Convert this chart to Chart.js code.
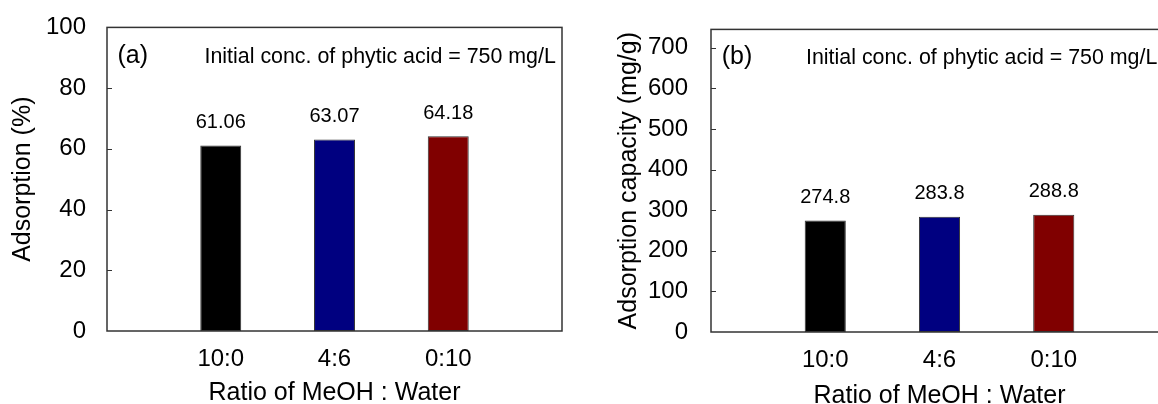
<!DOCTYPE html>
<html>
<head>
<meta charset="utf-8">
<script src="https://cdn.jsdelivr.net/npm/chart.js@4.4.0/dist/chart.umd.min.js"></script>
<style>
  html, body { margin: 0; padding: 0; background: #fff; overflow: hidden; width: 1158px; height: 404px; }
  .panel { position: absolute; top: 0; height: 404px; }
  #panelA { left: 0; width: 580px; }
  #panelB { left: 580px; width: 600px; }
</style>
</head>
<body>
<div class="panel" id="panelA"><canvas id="chartA" width="580" height="404"></canvas></div>
<div class="panel" id="panelB"><canvas id="chartB" width="600" height="404"></canvas></div>
<script>
// Solvent ratios tested and the measured results
const ratios = ['10:0', '4:6', '0:10'];
const adsorptionPct = [61.06, 63.07, 64.18];
const capacityMgG = [274.8, 283.8, 288.8];
const barColors = ['#000000', '#000080', '#800000'];
const ticksA = [0, 20, 40, 60, 80, 100];
const ticksB = [0, 100, 200, 300, 400, 500, 600, 700];
const noteText = 'Initial conc. of phytic acid = 750 mg/L';

const FONT = '"Liberation Sans", Arial, sans-serif';
Chart.defaults.font.family = FONT;
Chart.defaults.color = '#000';

// Empty slots on both sides leave a blank category-width margin around the bars
const pad = arr => [null, ...arr, null];
const padLabels = ['', ...ratios, ''];
const padColors = ['rgba(0,0,0,0)', ...barColors, 'rgba(0,0,0,0)'];

// Framed plot box, inward y ticks, value labels and panel annotation
const framePlugin = {
  id: 'frame',
  afterDraw(chart, args, opts) {
    const { ctx, chartArea: a } = chart;
    const y = chart.scales.y;
    ctx.save();
    ctx.strokeStyle = '#333';
    ctx.lineWidth = 1.5;
    ctx.strokeRect(a.left, a.top, a.right - a.left, a.bottom - a.top);

    ctx.lineWidth = 1;
    y.ticks.forEach(t => {
      if (t.value > y.min && t.value < y.max) {
        const py = Math.round(y.getPixelForValue(t.value)) + 0.5;
        ctx.beginPath();
        ctx.moveTo(a.left, py);
        ctx.lineTo(a.left + 5, py);
        ctx.stroke();
      }
    });

    const meta = chart.getDatasetMeta(0);
    const values = chart.data.datasets[0].data;
    ctx.fillStyle = '#000';
    ctx.font = '20px ' + FONT;
    ctx.textAlign = 'center';
    ctx.textBaseline = 'middle';
    meta.data.forEach((bar, i) => {
      const v = values[i];
      if (v == null) return;
      ctx.fillText(v.toFixed(opts.decimals), bar.x, bar.y - 23);
    });

    ctx.textAlign = 'left';
    ctx.textBaseline = 'alphabetic';
    ctx.font = '25px ' + FONT;
    ctx.fillText(opts.tag, a.left + opts.tagDx, a.top + opts.baseDy);
    ctx.font = '21.4px ' + FONT;
    ctx.fillText(opts.note, a.left + opts.noteDx, a.top + opts.baseDy);
    ctx.restore();
  }
};

function makePanel(canvasId, values, yMax, yTicks, yTitle, cfg) {
  return new Chart(document.getElementById(canvasId), {
    type: 'bar',
    data: {
      labels: padLabels,
      datasets: [{
        data: pad(values),
        backgroundColor: padColors,
        borderColor: '#333',
        borderWidth: 1,
        borderSkipped: false,
        barPercentage: 0.36,
        categoryPercentage: 1
      }]
    },
    options: {
      responsive: false,
      devicePixelRatio: 1,
      animation: false,
      layout: { padding: { top: cfg.padTop, right: cfg.padRight, left: 0, bottom: 0 } },
      plugins: {
        legend: { display: false },
        tooltip: { enabled: false },
        frame: {
          decimals: cfg.decimals, tag: cfg.tag, note: noteText,
          tagDx: cfg.tagDx, noteDx: cfg.noteDx, baseDy: cfg.baseDy
        }
      },
      scales: {
        x: {
          offset: false,
          grid: { display: false },
          border: { display: false },
          afterFit: s => { s.height = cfg.xHeight; },
          ticks: { font: { size: 24 }, color: '#000', padding: 6, maxRotation: 0, autoSkip: false },
          title: { display: true, text: 'Ratio of MeOH : Water', color: '#000',
                   font: { size: 25, lineHeight: 1 }, padding: { top: 0, bottom: cfg.xTitlePad } }
        },
        y: {
          min: 0,
          max: yMax,
          afterBuildTicks: s => { s.ticks = yTicks.map(v => ({ value: v })); },
          afterFit: s => { s.width = cfg.yWidth; },
          grid: { display: false },
          border: { display: false },
          ticks: { font: { size: 24 }, color: '#000', padding: cfg.yTickPad },
          title: { display: true, text: yTitle, color: '#000',
                   font: { size: 25, lineHeight: 1 }, padding: { top: cfg.yTitlePad, bottom: 0 } }
        }
      }
    },
    plugins: [framePlugin]
  });
}

makePanel('chartA', adsorptionPct, 100, ticksA, 'Adsorption (%)', {
  padTop: 27, padRight: 18, xHeight: 73, yWidth: 107, yTickPad: 13, yTitlePad: 11, xTitlePad: -2,
  decimals: 2, tag: '(a)', tagDx: 10.5, noteDx: 97.5, baseDy: 36
});

makePanel('chartB', capacityMgG, 745, ticksB, 'Adsorption capacity (mg/g)', {
  padTop: 28, padRight: 12, xHeight: 72, yWidth: 131, yTickPad: 15, yTitlePad: 37, xTitlePad: -5,
  decimals: 1, tag: '(b)', tagDx: 10.7, noteDx: 95, baseDy: 35
});
</script>
</body>
</html>
